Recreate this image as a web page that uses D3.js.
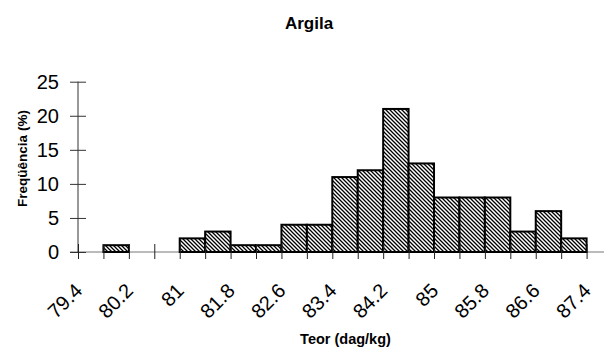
<!DOCTYPE html>
<html>
<head>
<meta charset="utf-8">
<script src="https://cdn.jsdelivr.net/npm/d3@7"></script>
<style>
  html, body { margin: 0; padding: 0; background: #fff; }
  svg { display: block; font-family: "Liberation Sans", Arial, sans-serif; }
</style>
</head>
<body>
<svg id="chart" width="604" height="347"></svg>
<script>
// Histogram of clay content (Argila): bin edges and relative frequency (%) per bin
const binEdges = [79.4, 79.8, 80.2, 80.6, 81.0, 81.4, 81.8, 82.2, 82.6, 83.0, 83.4,
                  83.8, 84.2, 84.6, 85.0, 85.4, 85.8, 86.2, 86.6, 87.0, 87.4];
const frequencies = [0, 1, 0, 0, 2, 3, 1, 1, 4, 4, 11, 12, 21, 13, 8, 8, 8, 3, 6, 2];
const xTickLabels = ["79.4", "80.2", "81", "81.8", "82.6", "83.4", "84.2", "85", "85.8", "86.6", "87.4"];
const yTicks = [0, 5, 10, 15, 20, 25];

const svg = d3.select("#chart");

const x = d3.scaleLinear().domain([79.4, 87.4]).range([78, 586.6]);
const y = d3.scaleLinear().domain([0, 25]).range([252, 81.7]);

// diagonal hatch fill for the bars
const defs = svg.append("defs");
const pat = defs.append("pattern")
  .attr("id", "hatch")
  .attr("patternUnits", "userSpaceOnUse")
  .attr("width", 4).attr("height", 4);
pat.append("rect").attr("width", 4).attr("height", 4).attr("fill", "#fff");
pat.append("path")
  .attr("d", "M-1,-1 L5,5 M-1,3 L1,5 M3,-1 L5,1")
  .attr("stroke", "#000").attr("stroke-width", 1.3);

// x axis line extends across the plot
svg.append("line")
  .attr("x1", 70).attr("x2", 604)
  .attr("y1", y(0)).attr("y2", y(0))
  .attr("stroke", "#777").attr("stroke-width", 1);

// bars
const bins = frequencies.map((f, i) => ({ x0: binEdges[i], x1: binEdges[i + 1], f }));
svg.append("g").selectAll("rect")
  .data(bins.filter(d => d.f > 0))
  .join("rect")
  .attr("x", d => x(d.x0))
  .attr("y", d => y(d.f))
  .attr("width", d => x(d.x1) - x(d.x0))
  .attr("height", d => y(0) - y(d.f))
  .attr("fill", "url(#hatch)")
  .attr("stroke", "#000")
  .attr("stroke-width", 2);

// y axis
const yAxis = svg.append("g")
  .attr("transform", `translate(${x(79.4)},0)`)
  .call(d3.axisLeft(y).tickValues(yTicks).tickSize(8).tickPadding(11).tickFormat(d3.format("d")));
yAxis.select(".domain").attr("stroke", "#333").attr("d", `M0,${y(25)}V${y(0)}`);
yAxis.selectAll(".tick line").attr("x1", 8).attr("stroke", "#333");
yAxis.selectAll(".tick text")
  .attr("font-size", 20).attr("fill", "#000")
  .attr("font-family", "'Liberation Sans', Arial, sans-serif");

// x axis
const labelMap = new Map(xTickLabels.map(s => [(+s).toFixed(1), s]));
const xAxis = svg.append("g")
  .attr("transform", `translate(0,${y(0)})`)
  .call(d3.axisBottom(x).tickValues(binEdges).tickSize(7)
    .tickFormat(d => labelMap.get(d.toFixed(1)) || ""));
xAxis.select(".domain").remove();
xAxis.selectAll(".tick line").attr("y1", -8).attr("stroke", "#222");
xAxis.selectAll(".tick text")
  .attr("font-size", 20).attr("fill", "#000")
  .attr("font-family", "'Liberation Sans', Arial, sans-serif")
  .attr("text-anchor", "end")
  .attr("x", 0).attr("y", 0).attr("dy", 0)
  .attr("transform", "translate(5,40) rotate(-45)");

// titles
svg.append("text")
  .attr("x", 309).attr("y", 28.5)
  .attr("text-anchor", "middle")
  .attr("font-weight", "bold").attr("font-size", 17)
  .text("Argila");

svg.append("text")
  .attr("x", 345.5).attr("y", 344)
  .attr("text-anchor", "middle")
  .attr("font-weight", "bold").attr("font-size", 14.5)
  .text("Teor (dag/kg)");

svg.append("text")
  .attr("transform", "translate(26.5,158.5) rotate(-90)")
  .attr("text-anchor", "middle")
  .attr("font-weight", "bold").attr("font-size", 13.5)
  .text("Freqüência (%)");
</script>
</body>
</html>
